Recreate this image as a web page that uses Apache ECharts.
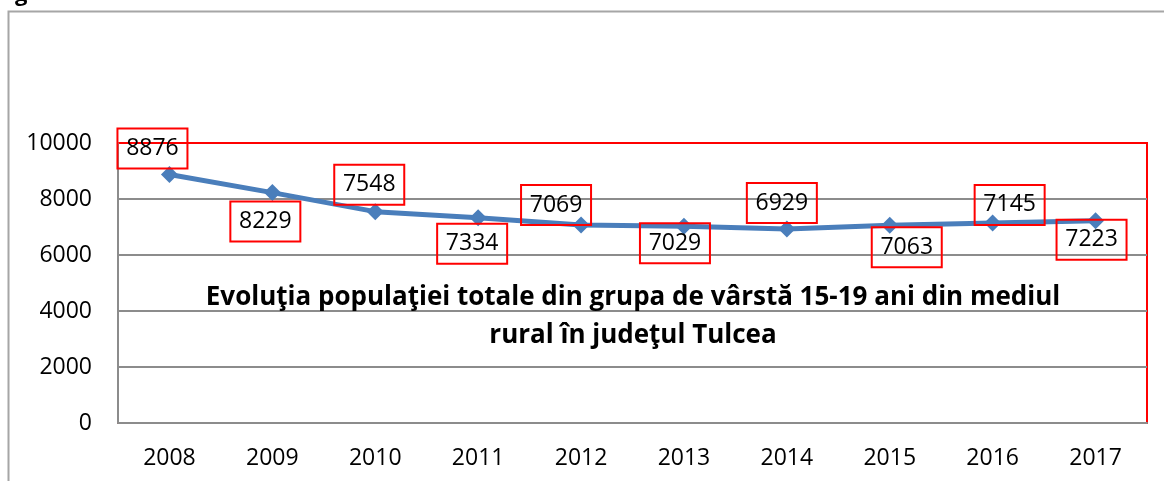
<!DOCTYPE html>
<html>
<head>
<meta charset="utf-8">
<script src="https://cdn.jsdelivr.net/npm/echarts@6/dist/echarts.min.js"></script>
<style>
  html, body { margin: 0; padding: 0; background: #fff; }
  #chart { width: 1164px; height: 481px; }
</style>
</head>
<body>
<div id="chart"></div>
<script>
  // date
  var years = ['2008', '2009', '2010', '2011', '2012', '2013', '2014', '2015', '2016', '2017'];
  var population = [8876, 8229, 7548, 7334, 7069, 7029, 6929, 7063, 7145, 7223];
  var yTicks = [0, 2000, 4000, 6000, 8000, 10000];
  // deplasarea etichetelor fata de punct (px)
  var labelShift = [[-17, -26], [-7, 29], [-6, -27], [-6, 26], [-25, -20],
                    [-9, 17], [-5, -26], [17, 22], [17, -18], [-4, 19]];

  var chart = echarts.init(document.getElementById('chart'));
  var font = '"Open Sans", "Noto Sans", sans-serif';

  var seriesData = population.map(function (v, i) {
    return {
      value: v,
      label: { offset: labelShift[i] }
    };
  });

  var option = {
    backgroundColor: '#fff',
    animation: false,
    graphic: [
      {
        type: 'rect',
        shape: { x: 8.5, y: 11.5, width: 1200, height: 500 },
        style: { fill: 'none', stroke: '#a6a6a6', lineWidth: 2 },
        z: 0
      },
      {
        type: 'text',
        left: 15, top: -16,
        style: { text: 'g', font: 'bold 22px ' + font, fill: '#000' }
      },
      {
        type: 'text',
        x: 633, y: 317,
        style: {
          text: 'Evoluţia populaţiei totale din grupa de vârstă 15-19 ani din mediul\nrural în judeţul Tulcea',
          font: 'bold 26px ' + font,
          fill: '#000',
          align: 'center',
          verticalAlign: 'middle',
          lineHeight: 38
        },
        z: 10
      }
    ],
    grid: {
      left: 118, right: 17, top: 143, bottom: 58,
      show: true,
      borderColor: '#ff0000',
      borderWidth: 2
    },
    xAxis: {
      type: 'category',
      data: years,
      boundaryGap: true,
      axisLine: { lineStyle: { color: '#8c8c8c', width: 2 } },
      axisTick: { show: false },
      axisLabel: { color: '#000', fontSize: 23, fontFamily: font, margin: 24 }
    },
    yAxis: {
      type: 'value',
      min: 0, max: 10000, interval: 2000,
      axisLine: { show: true, lineStyle: { color: '#8c8c8c', width: 2 } },
      axisTick: { show: false },
      splitLine: {
        lineStyle: {
          color: ['#8c8c8c', '#8c8c8c', '#8c8c8c', '#8c8c8c', '#8c8c8c', '#ff0000'],
          width: 2
        }
      },
      axisLabel: {
        color: '#000', fontSize: 23, fontFamily: font, margin: 26,
        formatter: function (v) { return yTicks.indexOf(v) >= 0 ? String(v) : ''; }
      }
    },
    series: [{
      type: 'line',
      data: seriesData,
      symbol: 'diamond',
      symbolSize: 17,
      lineStyle: { color: '#4a7ebb', width: 5 },
      itemStyle: { color: '#4a7ebb' },
      z: 5,
      label: {
        show: true,
        position: 'inside',
        color: '#000',
        fontSize: 23,
        fontFamily: font,
        borderColor: '#ff0000',
        borderWidth: 2,
        width: 66,
        height: 40,
        lineHeight: 40,
        align: 'center',
        verticalAlign: 'middle',
        padding: [0, 2]
      }
    }]
  };

  chart.setOption(option);
</script>
</body>
</html>
